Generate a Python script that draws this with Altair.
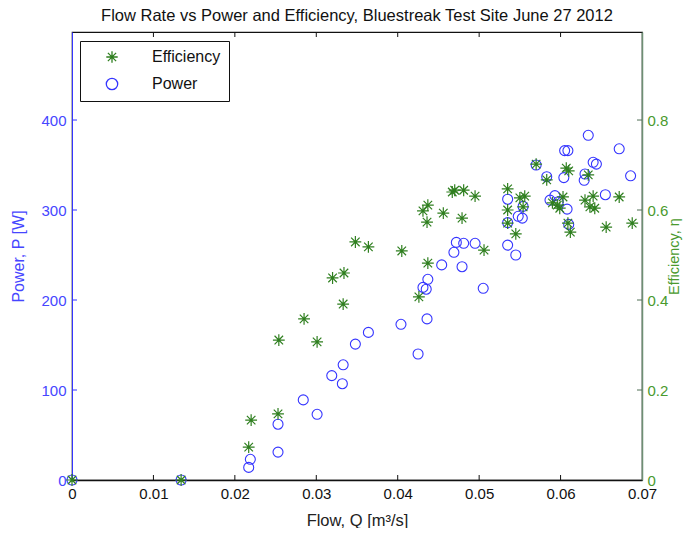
import altair as alt
import pandas as pd

TITLE = "Flow Rate vs Power and Efficiency, Bluestreak Test Site June 27 2012"

# Power series (blue circles): flow [m3/s], power [W]
power_flow = [0.0, 0.0134, 0.0217, 0.0219, 0.0253, 0.0253, 0.0284, 0.0301, 0.0319, 0.0332,
              0.0333, 0.0348, 0.0364, 0.0404, 0.0425, 0.0436, 0.0431, 0.0435, 0.0437, 0.0454,
              0.0472, 0.0481, 0.0495, 0.0469, 0.0479, 0.0505, 0.0535, 0.0535, 0.0535, 0.0545,
              0.0554, 0.0548, 0.0553, 0.0570, 0.0583, 0.0587, 0.0593, 0.0597, 0.0604, 0.0608,
              0.0610, 0.0605, 0.0609, 0.0629, 0.0630, 0.0634, 0.0640, 0.0644, 0.0655, 0.0672,
              0.0686]
power_w = [0, 0, 14, 23, 31, 62, 89, 73, 116, 107,
           128, 151, 164, 173, 140, 179, 214, 212, 223, 239,
           264, 263, 263, 253, 237, 213, 312, 286, 261, 250,
           304, 293, 291, 350, 337, 311, 316, 309, 336, 301,
           284, 366, 366, 333, 340, 383, 353, 351, 317, 368,
           338]

# Efficiency series (green stars): flow [m3/s], efficiency [-]
eff_flow = [0.0, 0.0134, 0.0217, 0.0220, 0.0253, 0.0254, 0.0285, 0.0301, 0.0320, 0.0333,
            0.0334, 0.0348, 0.0364, 0.0405, 0.0426, 0.0437, 0.0431, 0.0436, 0.0437, 0.0456,
            0.0470, 0.0481, 0.0495, 0.0479, 0.0506, 0.0535, 0.0535, 0.0535, 0.0545, 0.0550,
            0.0556, 0.0554, 0.0570, 0.0583, 0.0590, 0.0596, 0.0603, 0.0599, 0.0607, 0.0610,
            0.0609, 0.0612, 0.0630, 0.0640, 0.0636, 0.0642, 0.0634, 0.0656, 0.0672, 0.0688,
            0.0467]
eff_val = [0.0, 0.0, 0.073, 0.133, 0.147, 0.311, 0.358, 0.307, 0.449, 0.391,
           0.460, 0.529, 0.518, 0.509, 0.407, 0.482, 0.598, 0.573, 0.611, 0.593,
           0.644, 0.644, 0.631, 0.582, 0.511, 0.647, 0.600, 0.571, 0.547, 0.627,
           0.631, 0.607, 0.702, 0.667, 0.616, 0.611, 0.629, 0.604, 0.693, 0.687,
           0.571, 0.551, 0.622, 0.631, 0.607, 0.604, 0.678, 0.562, 0.629, 0.571,
           0.640]

x_tick_values = [0, 0.01, 0.02, 0.03, 0.04, 0.05, 0.06, 0.07]
x_inner_ticks = [0.01, 0.02, 0.03, 0.04, 0.05, 0.06]
power_tick_values = [0, 100, 200, 300, 400]
power_inner_ticks = [100, 200, 300, 400]
eff_tick_values = [0, 0.2, 0.4, 0.6, 0.8]
eff_inner_ticks = [0.2, 0.4, 0.6, 0.8]

X_DOMAIN = [0, 0.07]
P_DOMAIN = [0, 497.8]
E_DOMAIN = [0, 0.9956]

FONT = "Liberation Sans"
BLUE = "#3535ff"
BLUE_TXT = "#4646ff"
GREEN = "#2f7f1f"
GREEN_TXT = "#4a9a2e"
RIGHT_AX = "#6e8f74"
STAR = "M0,-1L0,1M-1,0L1,0M-0.72,-0.72L0.72,0.72M-0.72,0.72L0.72,-0.72"

W, H = 570, 448

df_p = pd.DataFrame({"flow": power_flow, "value": power_w, "series": "Power"})
df_e = pd.DataFrame({"flow": eff_flow, "value": eff_val, "series": "Efficiency"})
df_xt = pd.DataFrame({"flow": x_inner_ticks})
df_pt = pd.DataFrame({"value": power_inner_ticks})
df_et = pd.DataFrame({"value": eff_inner_ticks})

x_scale = alt.Scale(domain=X_DOMAIN, nice=False, zero=False)

legend = alt.Legend(
    title=None, orient="none", legendX=8, legendY=9,
    strokeColor="#111", fillColor="white", padding=8,
    symbolOffset=16, labelOffset=32, rowPadding=9,
    labelFont=FONT, labelFontSize=16, labelColor="#111",
    symbolSize=130, symbolStrokeWidth=1.3,
)
color = alt.Color("series:N", scale=alt.Scale(domain=["Efficiency", "Power"], range=[GREEN, BLUE]), legend=legend)
shape = alt.Shape("series:N", scale=alt.Scale(domain=["Efficiency", "Power"], range=[STAR, "circle"]), legend=legend)

x_enc = alt.X(
    "flow:Q", scale=x_scale,
    axis=alt.Axis(values=x_tick_values, format=".2~f", title="Flow, Q [m³/s]",
                  domainColor="#111", domainWidth=1.5, tickSize=0, labelPadding=6,
                  labelFont=FONT, labelFontSize=15, labelColor="#111",
                  titleFont=FONT, titleFontSize=16.5, titleFontWeight="normal",
                  titleColor="#222", titlePadding=11, grid=False, labelFlush=False),
)

power_layer = alt.Chart(df_p).mark_point(filled=False, size=100, strokeWidth=1.1, opacity=1).encode(
    x=x_enc,
    y=alt.Y("value:Q", scale=alt.Scale(domain=P_DOMAIN, nice=False),
            axis=alt.Axis(orient="left", values=power_tick_values, title="Power, P [W]",
                          domainColor=BLUE, tickSize=0, labelPadding=6,
                          labelFont=FONT, labelFontSize=15, labelColor=BLUE_TXT,
                          titleFont=FONT, titleFontSize=16, titleFontWeight="normal",
                          titleColor=BLUE_TXT, titlePadding=14, grid=False)),
    color=color, shape=shape,
)

eff_layer = alt.Chart(df_e).mark_point(filled=False, size=140, strokeWidth=1.2, opacity=1).encode(
    x=alt.X("flow:Q", scale=x_scale),
    y=alt.Y("value:Q", scale=alt.Scale(domain=E_DOMAIN, nice=False),
            axis=alt.Axis(orient="right", values=eff_tick_values, format=".1~f", title="Efficiency, η",
                          domainColor=RIGHT_AX, domainWidth=1.5, tickSize=0, labelPadding=5,
                          labelFont=FONT, labelFontSize=15, labelColor=GREEN_TXT,
                          titleFont=FONT, titleFontSize=14.5, titleFontWeight="normal",
                          titleColor=GREEN_TXT, titlePadding=0, titleAngle=270,
                          titleBaseline="top", grid=False)),
    color=color, shape=shape,
)

bottom_ticks = alt.Chart(df_xt).mark_rule(color="#111", strokeWidth=1).encode(
    x=alt.X("flow:Q", scale=x_scale), y=alt.value(H), y2=alt.value(H - 5))
top_ticks = alt.Chart(df_xt).mark_rule(color="#111", strokeWidth=1).encode(
    x=alt.X("flow:Q", scale=x_scale), y=alt.value(0), y2=alt.value(5))
left_ticks = alt.Chart(df_pt).mark_rule(color=BLUE, strokeWidth=1).encode(
    y=alt.Y("value:Q", scale=alt.Scale(domain=P_DOMAIN, nice=False), axis=None),
    x=alt.value(0), x2=alt.value(5))
right_ticks = alt.Chart(df_et).mark_rule(color="#4f6f55", strokeWidth=1).encode(
    y=alt.Y("value:Q", scale=alt.Scale(domain=E_DOMAIN, nice=False), axis=None),
    x=alt.value(W), x2=alt.value(W - 5))

chart = alt.layer(
    power_layer, eff_layer, bottom_ticks, top_ticks, left_ticks, right_ticks
).resolve_scale(y="independent").properties(
    width=W, height=H,
    title=alt.Title(TITLE, font=FONT, fontSize=16.5, fontWeight="normal", color="#111",
                    anchor="middle", offset=7),
    autosize=alt.AutoSizeParams(type="none"),
    padding={"left": 64, "top": 24, "right": 42, "bottom": 48},
).configure_view(stroke="#111", strokeWidth=1.2)

chart.save("out.html", embed_options={"renderer": "svg", "actions": False})
